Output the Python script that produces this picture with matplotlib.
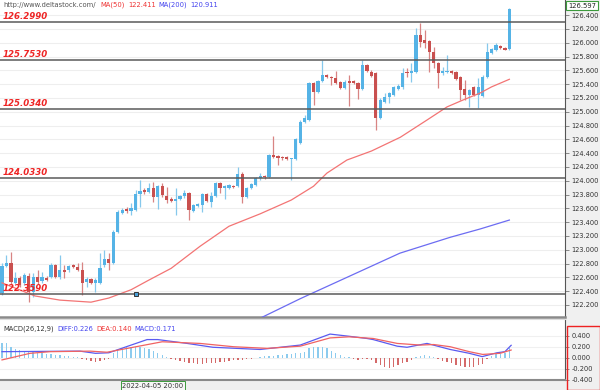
import numpy as np
import matplotlib
matplotlib.use("Agg")
import matplotlib.pyplot as plt
from matplotlib.patches import Rectangle

# candles (open, close, high, low)
opens = [122.37, 122.76, 122.81, 122.52, 122.59, 122.52, 122.62, 122.39, 122.60, 122.55,
         122.59, 122.60, 122.78, 122.60, 122.71, 122.71, 122.78, 122.75, 122.71, 122.53,
         122.58, 122.52, 122.52, 122.78, 122.87, 122.81, 123.26, 123.53, 123.59, 123.56,
         123.58, 123.81, 123.87, 123.84, 123.89, 123.76, 123.92, 123.78, 123.73, 123.71,
         123.73, 123.78, 123.82, 123.56, 123.63, 123.65, 123.81, 123.69, 123.78, 123.97,
         123.89, 123.89, 123.92, 123.92, 124.10, 123.76, 123.89, 123.94, 124.04, 124.07,
         124.05, 124.37, 124.36, 124.34, 124.34, 124.32, 124.32, 124.55, 124.85, 124.88,
         125.42, 125.29, 125.45, 125.53, 125.50, 125.49, 125.43, 125.34, 125.45, 125.45,
         125.42, 125.33, 125.68, 125.58, 125.56, 124.91, 125.14, 125.21, 125.24, 125.33,
         125.36, 125.58, 125.56, 125.58, 126.11, 126.04, 126.02, 125.87, 125.71, 125.56,
         125.58, 125.59, 125.58, 125.50, 125.33, 125.24, 125.36, 125.24, 125.23, 125.50,
         125.85, 125.89, 125.95, 125.92, 125.91]
closes = [122.76, 122.81, 122.53, 122.59, 122.49, 122.63, 122.39, 122.60, 122.53, 122.60,
          122.56, 122.78, 122.60, 122.71, 122.68, 122.76, 122.75, 122.71, 122.52, 122.58,
          122.52, 122.56, 122.74, 122.87, 122.81, 123.26, 123.55, 123.58, 123.56, 123.60,
          123.81, 123.85, 123.84, 123.89, 123.76, 123.92, 123.79, 123.72, 123.71, 123.73,
          123.78, 123.82, 123.58, 123.65, 123.66, 123.81, 123.71, 123.78, 123.97, 123.89,
          123.92, 123.94, 123.91, 124.10, 123.76, 123.89, 123.95, 124.04, 124.07, 124.05,
          124.37, 124.34, 124.33, 124.33, 124.32, 124.33, 124.60, 124.85, 124.91, 125.42,
          125.29, 125.45, 125.53, 125.50, 125.49, 125.42, 125.34, 125.43, 125.42, 125.42,
          125.33, 125.68, 125.59, 125.52, 124.91, 125.17, 125.21, 125.27, 125.36, 125.37,
          125.56, 125.56, 125.59, 126.11, 126.01, 126.00, 125.87, 125.71, 125.56, 125.59,
          125.59, 125.56, 125.47, 125.31, 125.24, 125.31, 125.24, 125.36, 125.50, 125.87,
          125.91, 125.97, 125.92, 125.89, 126.49]
highs = [122.81, 122.92, 122.97, 122.68, 122.62, 122.66, 122.66, 122.66, 122.71, 122.68,
         122.62, 122.81, 122.79, 122.92, 122.78, 122.78, 122.79, 122.81, 122.82, 122.60,
         122.59, 122.59, 122.95, 123.00, 122.95, 123.29, 123.58, 123.60, 123.62, 123.68,
         123.87, 124.01, 123.89, 123.97, 123.98, 123.94, 123.97, 123.91, 123.76, 123.89,
         123.79, 123.87, 123.84, 123.66, 123.68, 123.82, 123.82, 123.84, 123.98, 123.98,
         123.94, 123.95, 123.94, 124.20, 124.13, 123.91, 123.97, 124.05, 124.11, 124.08,
         124.39, 124.65, 124.37, 124.36, 124.36, 124.33, 124.62, 124.88, 124.95, 125.43,
         125.43, 125.46, 125.75, 125.55, 125.52, 125.59, 125.45, 125.46, 125.53, 125.46,
         125.43, 125.75, 125.69, 125.60, 125.58, 125.20, 125.27, 125.29, 125.37, 125.40,
         125.63, 125.63, 125.71, 126.21, 126.29, 126.18, 126.04, 125.94, 125.72, 125.65,
         125.82, 125.60, 125.59, 125.52, 125.46, 125.33, 125.37, 125.49, 125.53, 126.00,
         125.92, 126.00, 125.97, 125.94, 126.50]
lows = [122.34, 122.75, 122.50, 122.50, 122.46, 122.49, 122.24, 122.32, 122.50, 122.52,
        122.55, 122.59, 122.59, 122.58, 122.59, 122.68, 122.74, 122.69, 122.34, 122.46,
        122.50, 122.39, 122.50, 122.75, 122.71, 122.79, 123.24, 123.52, 123.53, 123.50,
        123.56, 123.62, 123.81, 123.82, 123.69, 123.59, 123.76, 123.68, 123.69, 123.50,
        123.72, 123.75, 123.43, 123.55, 123.62, 123.55, 123.69, 123.62, 123.76, 123.82,
        123.73, 123.88, 123.89, 123.91, 123.68, 123.75, 123.88, 123.92, 124.01, 124.03,
        124.04, 124.33, 124.23, 124.30, 124.30, 124.01, 124.30, 124.53, 124.84, 124.87,
        125.10, 125.27, 125.43, 125.49, 125.39, 125.40, 125.33, 125.33, 125.08, 125.40,
        125.18, 125.31, 125.58, 125.50, 124.73, 124.89, 125.13, 125.13, 125.23, 125.32,
        125.33, 125.50, 125.43, 125.56, 125.94, 125.92, 125.58, 125.63, 125.34, 125.53,
        125.56, 125.55, 125.46, 125.17, 125.17, 125.07, 125.23, 125.05, 125.21, 125.49,
        125.84, 125.88, 125.91, 125.89, 125.89]

# moving averages (candle index, value)
ma50_idx = [0, 7.4, 13, 20, 24, 29, 33, 38, 44.5, 51, 58, 65, 70, 73, 77.5, 83, 89.5, 95.5, 100, 103.6, 107.4, 110, 114]
ma50_val = [122.52, 122.33, 122.27, 122.24, 122.30, 122.42, 122.56, 122.73, 123.05, 123.34, 123.52, 123.72,
            123.92, 124.11, 124.30, 124.43, 124.63, 124.88, 125.07, 125.17, 125.27, 125.36, 125.47]
ma200_idx = [58.4, 67, 78.2, 89.4, 100.7, 107.4, 114]
ma200_val = [122.02, 122.29, 122.62, 122.95, 123.18, 123.30, 123.43]

# horizontal levels
levels = [126.299, 125.753, 125.034, 124.033, 122.359]
level_labels = ["126.2990", "125.7530", "125.0340", "124.0330", "122.3590"]
handle_idx = 30

# MACD(26,12,9)
hist = [0.26, 0.27, 0.19, 0.15, 0.14, 0.12, 0.11, 0.10, 0.09, 0.08,
        0.07, 0.06, 0.05, 0.05, 0.04, 0.03, 0.02, 0.01, -0.02, -0.04,
        -0.06, -0.07, -0.06, -0.05, -0.03, 0.08, 0.14, 0.17, 0.19, 0.20,
        0.20, 0.19, 0.17, 0.15, 0.12, 0.08, 0.05, 0.02, -0.02, -0.04,
        -0.06, -0.08, -0.09, -0.10, -0.11, -0.11, -0.10, -0.10, -0.09, -0.08,
        -0.07, -0.06, -0.05, -0.04, -0.04, -0.03, -0.02, -0.01, 0.01, 0.03,
        0.04, 0.04, 0.05, 0.05, 0.06, 0.07, 0.08, 0.08, 0.11, 0.17,
        0.19, 0.20, 0.20, 0.17, 0.12, 0.09, 0.05, 0.02, 0.01, -0.02,
        -0.04, -0.03, -0.03, -0.04, -0.10, -0.14, -0.17, -0.18, -0.16, -0.13,
        -0.09, -0.07, -0.05, 0.01, 0.04, 0.05, 0.04, 0.02, -0.03, -0.06,
        -0.08, -0.10, -0.13, -0.15, -0.16, -0.16, -0.16, -0.14, -0.11, -0.02,
        0.04, 0.06, 0.07, 0.09, 0.17]
diff_idx = [0, 17.5, 21, 24, 32.6, 35, 41.6, 47.4, 58, 67, 73.7, 78, 82, 83.4, 88.8, 91, 95.5, 100.7, 105, 107.9, 111.2, 113, 114.4]
diff_val = [0.11, 0.12, 0.08, 0.09, 0.33, 0.33, 0.26, 0.19, 0.15, 0.23, 0.43, 0.39, 0.35, 0.33, 0.21, 0.19,
            0.26, 0.15, 0.08, 0.02, 0.09, 0.11, 0.226]
dea_idx = [0, 6.3, 10.8, 19.8, 23.6, 36, 44.5, 52, 59.6, 67, 73.7, 78, 83.4, 88.8, 94, 97, 100.7, 105, 108, 111.9, 114.4]
dea_val = [-0.04, 0.08, 0.11, 0.12, 0.10, 0.29, 0.26, 0.20, 0.17, 0.21, 0.36, 0.38, 0.35, 0.26, 0.23, 0.24,
           0.20, 0.11, 0.06, 0.08, 0.14]

W, H = 600, 390


def box(x0, y0, x1, y1):
    return [x0 / W, 1 - y1 / H, (x1 - x0) / W, (y1 - y0) / H]


fig = plt.figure(figsize=(6, 3.9), dpi=100, facecolor='#f0f0f0')
ax = fig.add_axes(box(0, 0, 565, 317))
mx = fig.add_axes(box(0, 319, 565, 380))

opens = np.array(opens)
closes = np.array(closes)
idx = np.arange(len(opens))
up = closes >= opens
body_col = np.where(up, '#55b3e6', '#c9504f')
wick_col = np.where(up, '#86c8ec', '#d88483')

ax.vlines(idx, lows, highs, colors=wick_col, lw=0.9, zorder=2)
ax.bar(idx, closes - opens, bottom=opens, width=0.72, color=body_col, linewidth=0, zorder=3)

ax.plot(ma50_idx, ma50_val, color='#f37474', lw=0.9, zorder=4)
ax.plot(ma200_idx, ma200_val, color='#6c6cf2', lw=0.9, zorder=4)

for lv, lab in zip(levels, level_labels):
    ax.axhline(lv, color='#5a5a5a', lw=1.1, zorder=5)
    ax.text(0.004, lv + 0.015, lab, transform=ax.get_yaxis_transform(), color='#ee2424',
            fontsize=6.2, fontweight='bold', fontstyle='italic', va='bottom', zorder=6)
ax.plot([handle_idx], [levels[-1]], marker='s', ms=3, mfc='#4aa0d8', mec='#333333', mew=0.7, zorder=7)

ax.set_xlim(-0.45, 126.5)
ax.set_ylim(122.025, 126.619)
ax.set_yticks(np.arange(122.2, 126.41, 0.2))
ax.yaxis.set_major_formatter(matplotlib.ticker.FormatStrFormatter('%.3f'))
ax.yaxis.tick_right()
ax.tick_params(axis='y', length=3, width=0.6, color='#777777', labelsize=4.8, labelcolor='#333333', pad=1.5)
ax.set_xticks([])
ax.grid(axis='y', color='#eeeeee', lw=0.8)
ax.set_axisbelow(True)
for s in ['top', 'left']:
    ax.spines[s].set_visible(False)
ax.spines['right'].set_color('#555555')
ax.spines['bottom'].set_color('#8a8a8a')
ax.spines['bottom'].set_linewidth(1.8)

# MACD panel
hist = np.array(hist)
mx.bar(idx, hist, width=0.3, color=np.where(hist >= 0, '#8ccbee', '#d46a6a'), linewidth=0)
mx.plot(diff_idx, diff_val, color='#5a5af0', lw=0.9)
mx.plot(dea_idx, dea_val, color='#f06262', lw=0.9)
mx.set_xlim(-0.45, 126.5)
mx.set_ylim(-0.405, 0.704)
mx.set_yticks([-0.4, -0.2, 0, 0.2, 0.4])
mx.yaxis.set_major_formatter(matplotlib.ticker.FormatStrFormatter('%.3f'))
mx.yaxis.tick_right()
mx.tick_params(axis='y', length=3, width=0.6, color='#777777', labelsize=4.8, labelcolor='#333333', pad=1.5)
mx.set_xticks([])
mx.grid(axis='y', color='#f0f0f0', lw=0.8)
mx.set_axisbelow(True)
mx.spines['left'].set_visible(False)
mx.spines['top'].set_color('#dddddd')
mx.spines['right'].set_color('#555555')
mx.spines['bottom'].set_color('#8a8a8a')
mx.spines['bottom'].set_linewidth(1.5)

# header texts
fs = 4.9
fig.text(3 / W, 1 - 5 / H, 'http://www.deltastock.com/', fontsize=fs, color='#555555', va='center')
fig.text(100 / W, 1 - 5 / H, 'MA(50)', fontsize=fs, color='#ee3333', va='center')
fig.text(128 / W, 1 - 5 / H, '122.411', fontsize=fs, color='#ee3333', va='center')
fig.text(158 / W, 1 - 5 / H, 'MA(200)', fontsize=fs, color='#4444ee', va='center')
fig.text(190 / W, 1 - 5 / H, '120.911', fontsize=fs, color='#4444ee', va='center')

fig.text(3 / W, 1 - 329 / H, 'MACD(26,12,9)', fontsize=fs, color='#333333', va='center')
fig.text(57 / W, 1 - 329 / H, 'DIFF:0.226', fontsize=fs, color='#4444ee', va='center')
fig.text(96 / W, 1 - 329 / H, 'DEA:0.140', fontsize=fs, color='#ee3333', va='center')
fig.text(134 / W, 1 - 329 / H, 'MACD:0.171', fontsize=fs, color='#4444ee', va='center')

# current price label
fig.text(568 / W, 1 - 5.5 / H, '126.597', fontsize=fs, color='#222222', va='center',
         bbox=dict(facecolor='white', edgecolor='#3c9a3c', lw=0.8, boxstyle='square,pad=0.25'))

# time label
fig.text(153 / W, 1 - 385.5 / H, '2022-04-05 20:00', fontsize=fs, color='#333333', va='center', ha='center',
         bbox=dict(facecolor='#f7f7f7', edgecolor='#3c9a3c', lw=0.7, boxstyle='square,pad=0.2'))

fig.patches.append(Rectangle((566.5 / W, 0), 33 / W, 64 / H, transform=fig.transFigure,
                             fill=False, edgecolor='#ee2222', lw=1.0))

fig.savefig('out.png', dpi=100, facecolor=fig.get_facecolor())
